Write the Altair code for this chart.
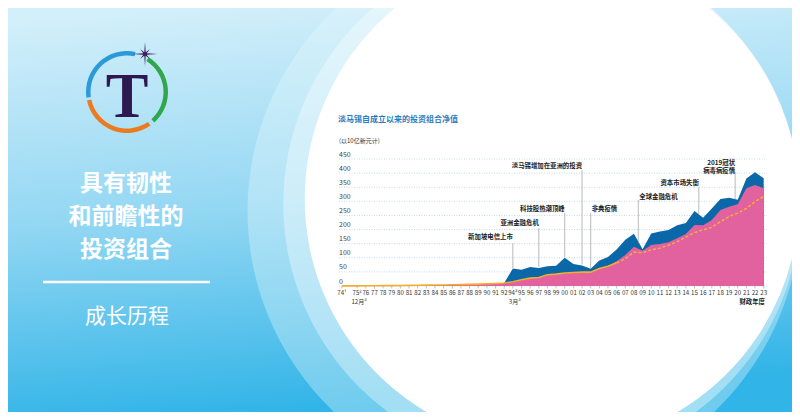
import math
import altair as alt
import pandas as pd

W, H = 784, 404

# ---------------- data ----------------
years = ["74", "75", "76", "77", "78", "79", "80", "81", "82", "83", "84", "85", "86", "87",
         "88", "89", "90", "91", "92", "94", "95", "96", "97", "98", "99", "00", "01", "02",
         "03", "04", "05", "06", "07", "08", "09", "10", "11", "12", "13", "14", "15", "16",
         "17", "18", "19", "20", "21", "22", "23"]
# position of each year on the axis (74 sits a little left of the regular spacing)
year_pos = [-0.75] + list(range(1, 49))

npv = [0.35, 0.5, 0.7, 0.9, 1.1, 1.3, 1.6, 2.0, 2.4, 2.8, 3.2, 3.6, 4.0, 4.6, 5.4, 6.5, 7.5,
       8.6, 10.5, 62, 58, 67, 64, 70, 72, 100, 78, 73, 61, 90, 103, 129, 164, 185, 130, 186,
       193, 198, 215, 223, 266, 242, 275, 308, 313, 306, 381, 403, 382]
pink = [0.3, 0.4, 0.5, 0.6, 0.8, 1.0, 1.2, 1.5, 1.8, 2.1, 2.4, 2.7, 3.0, 3.5, 4.1, 5.0, 5.8,
        6.7, 8.0, 13, 21, 27, 30, 39, 41, 45, 47, 48, 48, 62, 70, 88, 110, 139, 125, 145,
        149, 155, 169, 184, 216, 215, 234, 269, 281, 290, 346, 358, 346]
orange = [0.4, 0.6, 0.8, 1.0, 1.2, 1.5, 1.8, 2.2, 2.6, 3.0, 3.4, 3.8, 4.3, 4.9, 5.6, 6.6, 7.6,
          8.8, 10.5, 15, 22, 28, 30, 40, 42, 46, 48, 49, 49, 62, 70, 82, 97, 120, 118, 128,
          134, 145, 157, 173, 189, 199, 208, 228, 246, 258, 275, 299, 317]

first_line = {"74": "74¹", "75": "75²", "94": "94³"}
second_line_years = ["75", "94"]
second_line_text = ["12月³", "3月³"]
y_ticks = [0, 50, 100, 150, 200, 250, 300, 350, 400, 450]

ann_text = ["新加坡电信上市", "亚洲金融危机", "科技股热潮顶峰", "淡马锡增加在亚洲的投资",
            "非典疫情", "全球金融危机", "资本市场失衡", "2019冠状\n病毒病疫情"]
ann_pos = [19, 22, 25, 27, 28, 33.5, 40.5, 44.7]
ann_top = [152, 205, 259, 411, 259, 305, 351, 404]
ann_bottom = [64, 68, 103, 76, 62, 150, 255, 308]
ann_label_y = [172, 223, 274, 426, 274, 314, 365, 435]
ann_side = ["right", "right", "right", "right", "left", "left", "right", "right"]

chart_title = "淡马锡自成立以来的投资组合净值"
unit_text = "(以10亿新元计)"
x_title = "财政年度"
panel_lines = ["具有韧性", "和前瞻性的", "投资组合"]
panel_sub = "成长历程"

# ---------------- frames ----------------
df = pd.DataFrame({"pos": year_pos, "year": years, "npv": npv, "pink": pink, "orange": orange})
df["lab"] = [first_line.get(y, y) for y in years]
df_solid = df.iloc[:32]
df_dash = df.iloc[31:]
df_second = pd.DataFrame({"pos": [year_pos[years.index(y)] for y in second_line_years],
                          "lab": second_line_text})
ann = pd.DataFrame({"pos": ann_pos, "top": ann_top, "bottom": ann_bottom,
                    "ly": ann_label_y, "text": ann_text, "side": ann_side})
grid = pd.DataFrame({"v": y_ticks, "lab": [str(v) for v in y_ticks]})
one = pd.DataFrame({"a": [0]})

FONT = "Noto Sans CJK SC"

xscale = alt.Scale(domain=[-0.75, 48], range=[334, 755.7], nice=False, zero=False)
yscale = alt.Scale(domain=[0, 450], range=[278, 151], nice=False, zero=False)


def V(v):
    return alt.value(v)


def X(field):
    return alt.X(field, scale=xscale, axis=None)


def Y(field):
    return alt.Y(field, scale=yscale, axis=None, stack=None)


# ---------------- decoration ----------------
bg = alt.Chart(one).mark_rect(
    fill=alt.LinearGradient(gradient="linear", x1=0.2, y1=0, x2=0.35, y2=1, stops=[
        alt.GradientStop(color="#d3effa", offset=0),
        alt.GradientStop(color="#93d7f3", offset=0.5),
        alt.GradientStop(color="#31b4e7", offset=1)])
).encode(x=V(0), x2=V(W), y=V(0), y2=V(H))

cx, cy, R = 544, 191, 279
band1 = alt.Chart(one).mark_circle(color="#e8f8fd", opacity=0.35, clip=True).encode(
    x=V(cx - 28), y=V(cy + 12), size=V(math.pi * 312 ** 2))
band2 = alt.Chart(one).mark_circle(color="#ffffff", opacity=0.35, clip=True).encode(
    x=V(cx - 10), y=V(cy + 5), size=V(math.pi * 292 ** 2))
white = alt.Chart(one).mark_circle(color="#ffffff", opacity=1, clip=True).encode(
    x=V(cx), y=V(cy), size=V(math.pi * R ** 2))

ptitles = [
    alt.Chart(one).mark_text(
        text=t, fontSize=23, fontWeight="bold", color="white", align="center",
        baseline="middle", font=FONT).encode(x=V(118), y=V(yy))
    for t, yy in zip(panel_lines, [175.5, 208.9, 242.3])
]
pline = alt.Chart(one).mark_rule(color="white", strokeWidth=2.5).encode(
    x=V(35), x2=V(202), y=V(274))
psub = alt.Chart(one).mark_text(
    text=panel_sub, fontSize=21, color="white", align="center", baseline="middle", font=FONT
).encode(x=V(119), y=V(309))

# logo
LX, LY = 119, 84
arc_blue = alt.Chart(one).mark_arc(theta=math.radians(262), theta2=math.radians(372),
                                   radius=41, radius2=36.5, color="#2b9ad9").encode(x=V(LX), y=V(LY))
arc_green = alt.Chart(one).mark_arc(theta=math.radians(32), theta2=math.radians(138),
                                    radius=41, radius2=36.5, color="#2fa84b").encode(x=V(LX), y=V(LY))
arc_orange = alt.Chart(one).mark_arc(theta=math.radians(145), theta2=math.radians(258),
                                     radius=41, radius2=36.5, color="#ec7b20").encode(x=V(LX), y=V(LY))
pts = []
for k in range(16):
    ang = 2 * math.pi * k / 16 - math.pi / 2
    r = 1.0 if k % 4 == 0 else (0.55 if k % 2 == 0 else 0.15)
    pts.append(f"{r * math.cos(ang):.3f},{r * math.sin(ang):.3f}")
star_path = "M" + " L".join(pts) + " Z"
star = alt.Chart(one).mark_point(shape=star_path, filled=True, color="#3b1f5e", size=600,
                                 opacity=1).encode(x=V(137), y=V(46))
tee = alt.Chart(one).mark_text(text="T", font="Liberation Serif", fontSize=64, fontWeight="bold",
                               color="#2e1850", align="center", baseline="alphabetic").encode(
    x=V(LX), y=V(109))

# ---------------- chart ----------------
gridlines = alt.Chart(grid).mark_rule(color="#b3d0e8", strokeWidth=0.8, strokeDash=[1, 1.5]).encode(
    y=Y("v:Q"), x=V(331), x2=V(759))
ylabels = alt.Chart(grid).mark_text(
    align="left", baseline="bottom", dy=-1.5, fontSize=7, color="#444444", font=FONT
).encode(y=Y("v:Q"), x=V(331), text="lab:N")

blue_area = alt.Chart(df).mark_area(color="#0b68a8", opacity=1).encode(x=X("pos:Q"), y=Y("npv:Q"))
pink_area = alt.Chart(df).mark_area(color="#e2619f", opacity=1).encode(x=X("pos:Q"), y=Y("pink:Q"))
line_solid = alt.Chart(df_solid).mark_line(color="#f5ad2c", strokeWidth=1.6).encode(
    x=X("pos:Q"), y=Y("orange:Q"))
line_dash = alt.Chart(df_dash).mark_line(color="#f7b13a", strokeWidth=1.4, strokeDash=[3, 2]).encode(
    x=X("pos:Q"), y=Y("orange:Q"))

xticks = alt.Chart(df).mark_rule(color="#9a9a9a", strokeWidth=0.6).encode(
    x=X("pos:Q"), y=V(278), y2=V(280.5))
xlabels = alt.Chart(df).mark_text(
    align="center", baseline="middle", fontSize=6.1, color="#333333", font=FONT
).encode(x=X("pos:Q"), y=V(284.5), text="lab:N")
xlabels2 = alt.Chart(df_second).mark_text(
    align="center", baseline="middle", fontSize=6.1, color="#333333", font=FONT, dx=2
).encode(x=X("pos:Q"), y=V(294), text="lab:N")
xtitle = alt.Chart(one).mark_text(
    text=x_title, align="right", baseline="middle", fontSize=6.4, fontWeight="bold",
    color="#222222", font=FONT).encode(x=V(757), y=V(294))

ann_rules = alt.Chart(ann).mark_rule(color="#8c8c8c", strokeWidth=0.6).encode(
    x=X("pos:Q"), y=Y("top:Q"), y2="bottom:Q")
ann_right = alt.Chart(ann[ann.side == "right"]).mark_text(
    align="right", baseline="middle", fontSize=6.4, fontWeight="bold", color="#1a1a1a",
    lineBreak="\n", lineHeight=7.5, font=FONT
).encode(x=X("pos:Q"), y=Y("ly:Q"), text="text:N")
ann_left = alt.Chart(ann[ann.side == "left"]).mark_text(
    align="left", baseline="middle", fontSize=6.4, fontWeight="bold", color="#1a1a1a",
    dx=1, font=FONT
).encode(x=X("pos:Q"), y=Y("ly:Q"), text="text:N")

title_txt = alt.Chart(one).mark_text(
    text=chart_title, fontSize=8.0, fontWeight="bold", color="#2a7cc0", align="left",
    baseline="middle", font=FONT).encode(x=V(330), y=V(112))
unit_txt = alt.Chart(one).mark_text(
    text=unit_text, fontSize=6, color="#333333", align="left", baseline="middle",
    font=FONT).encode(x=V(331), y=V(133))

chart = alt.layer(
    bg, band1, band2, white, *ptitles, pline, psub, arc_blue, arc_green, arc_orange, star, tee,
    gridlines, ylabels, blue_area, pink_area, line_solid, line_dash, xticks, xlabels, xlabels2,
    xtitle, ann_rules, ann_right, ann_left, title_txt, unit_txt
).properties(
    width=W, height=H, autosize=alt.AutoSizeParams(type="none"), padding=0
).configure_view(strokeWidth=0).configure(font=FONT, background="white")

chart.save("out.html", embed_options={"renderer": "svg", "actions": False})
